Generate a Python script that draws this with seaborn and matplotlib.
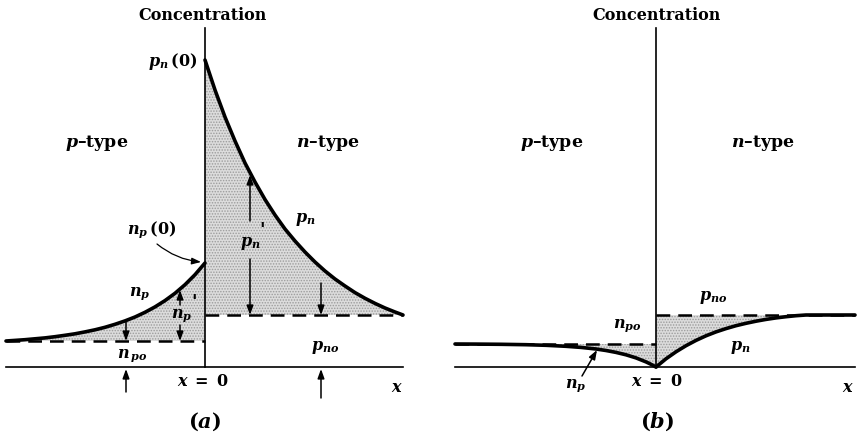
import matplotlib
matplotlib.use("Agg")
import matplotlib.pyplot as plt
import seaborn as sns
import pandas as pd

# ---------------- data (arbitrary units) ----------------
# Panel (a): forward bias -- excess minority carriers
a_x_n = [0, 10, 20, 30, 40, 50, 60, 70, 80, 90, 100, 110, 120, 130, 140, 150,
         160, 170, 180, 190, 198]
a_pn = [307, 277, 250, 226, 204, 185, 167.5, 152, 138, 126, 115, 105, 96, 88, 81,
        74.4, 68.7, 63.6, 59, 55, 52]
a_pno = 52
a_x_p = [-199, -190, -180, -170, -160, -150, -140, -130, -120, -110, -100, -90,
         -80, -70, -60, -50, -40, -30, -20, -10, 0]
a_np = [26, 26.6, 27.3, 28.2, 29.1, 30.3, 31.7, 33.2, 35.1, 37.2, 39.7, 42.7,
        46.1, 50, 54.7, 60.1, 66.4, 73.7, 82.3, 92.3, 104]
a_npo = 26

# Panel (b): reverse bias -- minority carrier deficit
b_x_n = [0, 10, 20, 30, 40, 50, 60, 70, 80, 90, 100, 110, 120, 130, 140, 150, 199]
b_pn = [0, 8.2, 15.2, 21.3, 26.6, 31.2, 35.1, 38.4, 41.3, 43.7, 45.8, 47.6, 49.1,
        50.3, 51.3, 52, 52]
b_pno = 52
b_x_p = [-201, -180, -155, -130, -110, -90, -75, -60, -50, -40, -30, -20, -10, -5, 0]
b_np = [23, 22.9, 22.7, 22.3, 21.7, 20.7, 19.6, 18.0, 16.5, 14.6, 12.2, 9.1, 5.1, 2.7, 0]
b_npo = 23

axis_top = 339

# ---------------- style ----------------
sns.set_style("white")
plt.rcParams["font.family"] = ["DejaVu Serif", "DejaVu Sans"]
plt.rcParams["font.weight"] = "bold"
plt.rcParams["mathtext.fontset"] = "custom"
plt.rcParams["mathtext.it"] = "DejaVu Serif:italic:bold"
plt.rcParams["mathtext.rm"] = "DejaVu Serif:bold"
plt.rcParams["mathtext.bf"] = "DejaVu Serif:bold"
plt.rcParams["hatch.linewidth"] = 0.7

fig = plt.figure(figsize=(8.57, 4.38), dpi=100)
ax_a = fig.add_axes([0, 0, 430 / 857, 1])
ax_b = fig.add_axes([430 / 857, 0, 427 / 857, 1])
ax_a.set_xlim(-205, 225)
ax_b.set_xlim(-226, 201)
for ax in (ax_a, ax_b):
    ax.set_ylim(-71, 367)
    ax.set_facecolor("none")
    ax.set_xticks([])
    ax.set_yticks([])
    ax.spines["top"].set_visible(False)
    ax.spines["right"].set_visible(False)
    ax.spines["left"].set_position(("data", 0))
    ax.spines["bottom"].set_position(("data", 0))
    ax.spines["left"].set_bounds(0, axis_top)
    for s in ("left", "bottom"):
        ax.spines[s].set_linewidth(1.2)
        ax.spines[s].set_color("black")
        ax.spines[s].set_zorder(5)

ax_a.spines["bottom"].set_bounds(a_x_p[0], a_x_n[-1])
ax_b.spines["bottom"].set_bounds(b_x_p[0], b_x_n[-1])

fill_kw = dict(facecolor="#dcdcdc", edgecolor="#9c9c9c", hatch="......", linewidth=0, zorder=1)
curve_kw = dict(color="black", linewidth=2.6, estimator=None, sort=False, zorder=4)
dash_ls = (0, (5.5, 3.2))

# ---------- panel (a) ----------
dfa_n = pd.DataFrame({"x": a_x_n, "c": a_pn})
dfa_p = pd.DataFrame({"x": a_x_p, "c": a_np})
ax_a.fill_between(a_x_n, a_pn, a_pno, **fill_kw)
ax_a.fill_between(a_x_p, a_np, a_npo, **fill_kw)
sns.lineplot(data=dfa_n, x="x", y="c", ax=ax_a, **curve_kw)
sns.lineplot(data=dfa_p, x="x", y="c", ax=ax_a, **curve_kw)
ax_a.plot([0, a_x_n[-1]], [a_pno, a_pno], color="black", lw=1.8, ls=dash_ls, zorder=3)
ax_a.plot([a_x_p[0], 0], [a_npo, a_npo], color="black", lw=1.8, ls=dash_ls, zorder=3)

txt = dict(ha="center", va="center", fontsize=11.5, fontweight="bold", color="black", zorder=6)
typ = dict(txt, fontsize=12.5)
prime = dict(ha="left", va="center", fontsize=13, fontweight="bold", fontstyle="italic",
             color="black", zorder=6)
ax_a.text(-2, 351, "Concentration", **txt)
ax_a.text(-32, 305, r"$p_n\,$(0)", **txt)
ax_a.text(-108, 224, r"$p$–type", **typ)
ax_a.text(123, 224, r"$n$–type", **typ)
ax_a.text(100, 147, r"$p_n$", **txt)
ax_a.text(-53, 137, r"$n_p\,$(0)", **txt)
ax_a.text(-65, 74, r"$n_p$", **txt)
ax_a.text(-73, 12, r"$n_{\,po}$", **txt)
ax_a.text(120, 20, r"$p_{no}$", **txt)
ax_a.text(45, 123, r"$p_n$", **txt)
ax_a.text(54, 136, "'", **prime)
ax_a.text(-23, 51, r"$n_p$", **txt)
ax_a.text(-14, 64, "'", **prime)
ax_a.text(-2, -15, r"$x\;=\;0$", **txt)
ax_a.text(192, -20, r"$x$", **txt)
ax_a.text(0, -55, r"$(a)$", ha="center", va="center", fontsize=15, color="black")

arr = dict(arrowstyle="-|>,head_length=0.55,head_width=0.2", color="black", lw=1.1,
           shrinkA=0, shrinkB=0)
# p_n' double arrow
ax_a.annotate("", xy=(45, 192), xytext=(45, 146), arrowprops=arr)
ax_a.annotate("", xy=(45, a_pno), xytext=(45, 108), arrowprops=arr)
# n_p' double arrow
ax_a.annotate("", xy=(-25, 77), xytext=(-25, 62), arrowprops=arr)
ax_a.annotate("", xy=(-25, a_npo), xytext=(-25, 42), arrowprops=arr)
# small down arrows
ax_a.annotate("", xy=(-79, a_npo), xytext=(-79, 46), arrowprops=arr)
ax_a.annotate("", xy=(116, a_pno), xytext=(116, 84), arrowprops=arr)
# up arrows under the axis
ax_a.annotate("", xy=(-79, -2), xytext=(-79, -25), arrowprops=arr)
ax_a.annotate("", xy=(116, -2), xytext=(116, -31), arrowprops=arr)
# n_p(0) pointer
ax_a.annotate("", xy=(-4, 105), xytext=(-48, 123),
              arrowprops=dict(arrowstyle="-|>,head_length=0.55,head_width=0.2", color="black",
                              lw=0.9, shrinkA=0, shrinkB=0, connectionstyle="arc3,rad=0.15"))

# ---------- panel (b) ----------
dfb_n = pd.DataFrame({"x": b_x_n, "c": b_pn})
dfb_p = pd.DataFrame({"x": b_x_p, "c": b_np})
ax_b.fill_between(b_x_n, b_pn, b_pno, **fill_kw)
ax_b.fill_between(b_x_p, b_np, b_npo, **fill_kw)
sns.lineplot(data=dfb_n, x="x", y="c", ax=ax_b, **curve_kw)
sns.lineplot(data=dfb_p, x="x", y="c", ax=ax_b, **curve_kw)
ax_b.plot([0, b_x_n[-1]], [b_pno, b_pno], color="black", lw=1.8, ls=dash_ls, zorder=3)
ax_b.plot([b_x_p[0], 0], [b_npo, b_npo], color="black", lw=1.8, ls=dash_ls, zorder=3)

ax_b.text(1, 351, "Concentration", **txt)
ax_b.text(-104, 224, r"$p$–type", **typ)
ax_b.text(107, 224, r"$n$–type", **typ)
ax_b.text(57, 70, r"$p_{no}$", **txt)
ax_b.text(-29, 42, r"$n_{po}$", **txt)
ax_b.text(84, 19, r"$p_n$", **txt)
ax_b.text(-80, -19, r"$n_p$", **txt)
ax_b.text(1, -15, r"$x\;=\;0$", **txt)
ax_b.text(192, -20, r"$x$", **txt)
ax_b.text(1, -55, r"$(b)$", ha="center", va="center", fontsize=15, color="black")
ax_b.annotate("", xy=(-59, 17), xytext=(-74, -9), arrowprops=arr)

fig.savefig("out.png", dpi=100, facecolor="white")
